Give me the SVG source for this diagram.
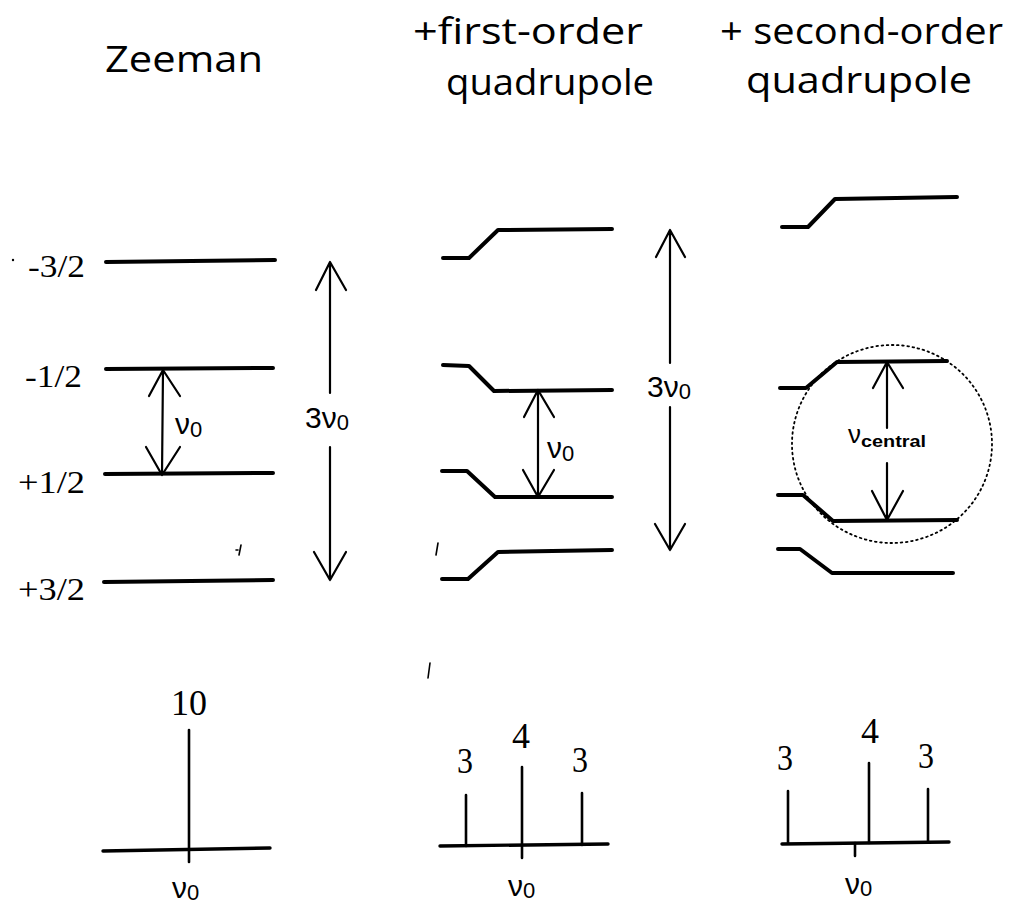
<svg xmlns="http://www.w3.org/2000/svg" width="1014" height="908" viewBox="0 0 1014 908">
<defs>
<style>
.title{font-family:"Open Sans","Noto Sans","Liberation Sans",sans-serif;font-size:36px;fill:#000}
.num{font-family:"Liberation Serif","Times New Roman",serif;font-size:32px;fill:#000}
.dig{font-family:"Liberation Serif","Times New Roman",serif;font-size:35px;fill:#000}
.nu{font-family:"Liberation Sans","DejaVu Sans",sans-serif;font-size:30px;fill:#000}
.sub{font-family:"Liberation Sans","DejaVu Sans",sans-serif;font-size:22px;fill:#000}
.lvl{fill:none;stroke:#000;stroke-width:4;stroke-linecap:round;stroke-linejoin:round}
.arr{fill:none;stroke:#000;stroke-width:2.2;stroke-linecap:round;stroke-linejoin:round}
.stick{fill:none;stroke:#000;stroke-width:2.6;stroke-linecap:round}
.base{fill:none;stroke:#000;stroke-width:3.4;stroke-linecap:round}
.dot{fill:none;stroke:#000;stroke-width:1.8;stroke-dasharray:1.6 3.6;stroke-linecap:round}
.mark{fill:none;stroke:#000;stroke-width:1.6;stroke-linecap:round}
</style>
</defs>
<rect width="1014" height="908" fill="#fff"/>

<g id="titles">
<text class="title" x="105" y="72" textLength="158" lengthAdjust="spacingAndGlyphs">Zeeman</text>
<text class="title" x="413" y="44" textLength="230" lengthAdjust="spacingAndGlyphs">+first-order</text>
<text class="title" x="446" y="95" textLength="208" lengthAdjust="spacingAndGlyphs">quadrupole</text>
<text class="title" x="720" y="44" textLength="283" lengthAdjust="spacingAndGlyphs">+ second-order</text>
<text class="title" x="746" y="93" textLength="226" lengthAdjust="spacingAndGlyphs">quadrupole</text>
</g>

<g id="spin-labels">
<text class="num" x="28" y="277" textLength="57" lengthAdjust="spacingAndGlyphs">-3/2</text>
<text class="num" x="25" y="387" textLength="57" lengthAdjust="spacingAndGlyphs">-1/2</text>
<text class="num" x="18" y="493" textLength="67" lengthAdjust="spacingAndGlyphs">+1/2</text>
<text class="num" x="18" y="600" textLength="67" lengthAdjust="spacingAndGlyphs">+3/2</text>
</g>

<g id="zeeman-levels">
<path class="lvl" d="M106,262 L275,260"/>
<path class="lvl" d="M106,369 L273,368"/>
<path class="lvl" d="M105,474 L273,473"/>
<path class="lvl" d="M104,582 L273,580"/>
</g>

<g id="first-order-levels">
<path class="lvl" d="M443,258 L469,258 L498,230 L612,229"/>
<path class="lvl" d="M443,365 L469,366 L494,391 L612,390"/>
<path class="lvl" d="M442,471 L467,471 L495,497 L612,497"/>
<path class="lvl" d="M442,579 L468,579 L498,552 L612,550"/>
</g>

<g id="second-order-levels">
<path class="lvl" d="M782,227 L808,227 L835,199 L957,197"/>
<path class="lvl" d="M780,388 L806,388 L837,362 L947,361"/>
<path class="lvl" d="M778,495 L803,495 L833,521 L957,520"/>
<path class="lvl" d="M778,549 L800,549 L832,573 L953,573"/>
<ellipse id="central-circle" class="dot" cx="892" cy="444" rx="100" ry="99"/>
</g>

<g id="connectors">
<path class="arr" d="M163,370 L162,475 M149,396 L163,370 L180,396 M146,447 L162,475 L180,447"/>
<path class="arr" d="M330,262 L330,393 M330,447 L330,580 M316,290 L330,262 L346,290 M314,552 L330,580 L346,552"/>
<path class="arr" d="M538,390 L538,497 M524,417 L538,390 L554,417 M523,470 L538,497 L554,470"/>
<path class="arr" d="M670,230 L670,363 M670,407 L670,550 M656,257 L670,230 L685,257 M655,524 L670,550 L685,524"/>
<path class="arr" d="M887,362 L887,428 M887,463 L887,520 M873,388 L887,362 L903,388 M872,491 L887,520 L903,491"/>
</g>

<g id="arrow-labels">
<text x="175" y="434"><tspan class="nu">ν</tspan><tspan class="sub" dy="3">0</tspan></text>
<text x="305" y="428"><tspan class="nu">3ν</tspan><tspan class="sub" dy="2">0</tspan></text>
<text x="547" y="458"><tspan class="nu">ν</tspan><tspan class="sub" dy="3">0</tspan></text>
<text x="647" y="397"><tspan class="nu">3ν</tspan><tspan class="sub" dy="2">0</tspan></text>
<text x="848" y="443"><tspan class="nu" style="font-size:26px">ν</tspan><tspan class="sub" style="font-size:17px;font-weight:bold" dy="4" textLength="65" lengthAdjust="spacingAndGlyphs">central</tspan></text>
</g>

<g id="spectrum-zeeman">
<path class="base" d="M103,851 L270,848"/>
<path class="stick" d="M189,730 L189,862"/>
<text class="dig" x="171" y="715" textLength="36" lengthAdjust="spacingAndGlyphs">10</text>
<text x="172" y="898"><tspan class="nu">ν</tspan><tspan class="sub" dy="2">0</tspan></text>
</g>

<g id="spectrum-first">
<path class="base" d="M440,846 L608,844"/>
<path class="stick" d="M466,795 L466,846 M522,767 L522,858 M582,793 L582,845"/>
<text class="dig" x="457" y="773" textLength="16" lengthAdjust="spacingAndGlyphs">3</text>
<text class="dig" x="512" y="748" textLength="18" lengthAdjust="spacingAndGlyphs">4</text>
<text class="dig" x="572" y="772" textLength="16" lengthAdjust="spacingAndGlyphs">3</text>
<text x="508" y="896"><tspan class="nu">ν</tspan><tspan class="sub" dy="2">0</tspan></text>
</g>

<g id="spectrum-second">
<path class="base" d="M782,844 L949,842"/>
<path class="stick" d="M788,791 L788,843 M869,763 L869,843 M928,789 L928,842 M855,843 L855,856"/>
<text class="dig" x="777" y="770" textLength="16" lengthAdjust="spacingAndGlyphs">3</text>
<text class="dig" x="861" y="743" textLength="18" lengthAdjust="spacingAndGlyphs">4</text>
<text class="dig" x="918" y="768" textLength="16" lengthAdjust="spacingAndGlyphs">3</text>
<text x="845" y="894"><tspan class="nu">ν</tspan><tspan class="sub" dy="2">0</tspan></text>
</g>

<g id="specks">
<circle cx="13" cy="260" r="1.2" fill="#000"/>
<path class="mark" d="M241,545 L239,555 M236,550 L238,550"/>
<path class="mark" d="M438,543 L436,555"/>
<path class="mark" d="M430,663 L428,678"/>
</g>
</svg>
